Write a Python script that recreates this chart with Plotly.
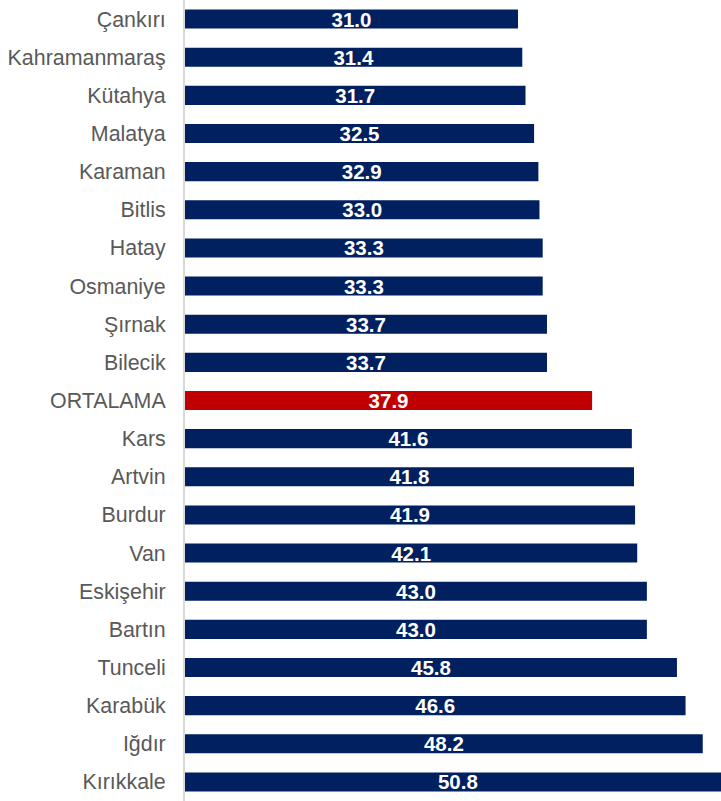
import plotly.graph_objects as go

# top to bottom, as in the picture
provinces = ["Çankırı", "Kahramanmaraş", "Kütahya", "Malatya", "Karaman", "Bitlis",
             "Hatay", "Osmaniye", "Şırnak", "Bilecik", "ORTALAMA", "Kars", "Artvin",
             "Burdur", "Van", "Eskişehir", "Bartın", "Tunceli", "Karabük", "Iğdır",
             "Kırıkkale"]
values = [31.0, 31.4, 31.7, 32.5, 32.9, 33.0, 33.3, 33.3, 33.7, 33.7, 37.9, 41.6,
          41.8, 41.9, 42.1, 43.0, 43.0, 45.8, 46.6, 48.2, 50.8]

NAVY = "#002060"
RED = "#C00000"
colors = [RED if p == "ORTALAMA" else NAVY for p in provinces]

fig = go.Figure()
fig.add_trace(
    go.Bar(x=values, y=provinces, orientation='h', width=0.5,
           marker=dict(color=colors, line=dict(width=0)),
           text=[f"{v:.1f}" for v in values], textposition='inside',
           insidetextanchor='middle', textangle=0, constraintext='none',
           textfont=dict(family="Liberation Sans, Arial", size=20.5, color="white",
                         weight="bold"),
           hovertemplate='%{y}: %{x:.1f}<extra></extra>')
)

fig.update_layout(
    width=721, height=801,
    margin=dict(l=185, r=0, t=0, b=0, pad=0),
    plot_bgcolor='white',
    paper_bgcolor='white',
    showlegend=False,
    xaxis=dict(range=[0, 49.9], visible=False, fixedrange=True, automargin=False),
    yaxis=dict(
        autorange='reversed',
        automargin=False,
        showgrid=False,
        showline=True, linecolor='#D9D9D9', linewidth=2,
        ticks='', ticklabelstandoff=13,
        tickfont=dict(family="Liberation Sans, Arial", size=21.4, color="#595959"),
    ),
)

# drop the page's default body margin so the figure sits at the window's corner
fig.write_html("out.html", config={'displayModeBar': False},
               post_script="document.body.style.margin='0';document.body.style.overflow='hidden';")
